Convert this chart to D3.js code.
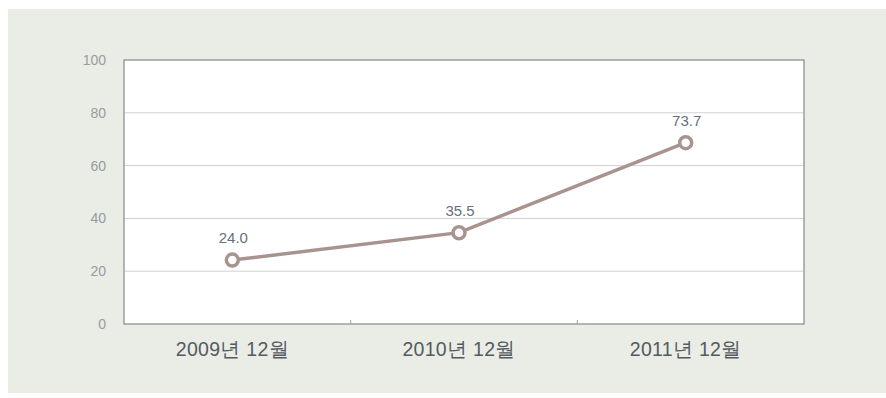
<!DOCTYPE html>
<html>
<head>
<meta charset="utf-8">
<script src="https://cdn.jsdelivr.net/npm/d3@7"></script>
<style>
  body { margin: 0; background: #fff; }
  svg { display: block; font-family: "Liberation Sans", "Noto Sans CJK KR", sans-serif; }
</style>
</head>
<body>
<div id="chart-area"></div>
<script>
// Data
const categories = ["2009년 12월", "2010년 12월", "2011년 12월"];
const valueLabels = ["24.0", "35.5", "73.7"];
// plotted heights as drawn in the source chart
const plotted = [24.2, 34.6, 68.7];
const yTicks = [0, 20, 40, 60, 80, 100];

const W = 886, H = 398;
const margin = { top: 60, right: 82, bottom: 74, left: 124 };
const width = W - margin.left - margin.right;
const height = H - margin.top - margin.bottom;

const svg = d3.select("#chart-area").append("svg")
    .attr("width", W)
    .attr("height", H);

// panel background
svg.append("rect")
    .attr("x", 8).attr("y", 9)
    .attr("width", W - 8).attr("height", 384)
    .attr("fill", "#e9ede6");

const g = svg.append("g")
    .attr("transform", `translate(${margin.left}, ${margin.top})`);

// Scales
const x = d3.scaleBand().domain(categories).range([0, width]);
const y = d3.scaleLinear().domain([0, 100]).range([height, 0]);
const px = d => x(d) + x.bandwidth() / 2 - 5;

// plot area
g.append("rect")
    .attr("width", width).attr("height", height)
    .attr("fill", "#fff");

// grid lines
g.append("g").selectAll("line")
    .data(yTicks.filter(t => t > 0 && t < 100))
    .join("line")
    .attr("x1", 0).attr("x2", width)
    .attr("y1", d => y(d)).attr("y2", d => y(d))
    .attr("stroke", "#cfd2d2").attr("stroke-width", 1);

// border
g.append("rect")
    .attr("width", width).attr("height", height)
    .attr("fill", "none")
    .attr("stroke", "#9a9fa3").attr("stroke-width", 1.5);

// y axis
const yAxis = g.append("g")
    .call(d3.axisLeft(y).tickValues(yTicks).tickSize(0).tickPadding(18));
yAxis.select(".domain").remove();
yAxis.selectAll("text")
    .attr("fill", "#979ca0")
    .attr("font-size", 14);

// x axis
const xAxis = g.append("g")
    .attr("transform", `translate(0, ${height})`)
    .call(d3.axisBottom(x).tickSize(0).tickPadding(0));
xAxis.select(".domain").remove();
xAxis.selectAll("text")
    .attr("x", -5)
    .attr("y", 25)
    .attr("dy", "0.35em")
    .attr("fill", "#555a60")
    .attr("font-size", 19.5)
    .attr("letter-spacing", 0.3);

// small tick marks between categories
g.append("g").selectAll("line")
    .data(categories.slice(1))
    .join("line")
    .attr("x1", d => x(d)).attr("x2", d => x(d))
    .attr("y1", height).attr("y2", height - 4)
    .attr("stroke", "#9a9fa3");

// line
const line = d3.line()
    .x((d, i) => px(categories[i]))
    .y(d => y(d));

g.append("path")
    .datum(plotted)
    .attr("fill", "none")
    .attr("stroke", "#a8948f")
    .attr("stroke-width", 3.5)
    .attr("d", line);

// markers
g.append("g").selectAll("circle")
    .data(plotted)
    .join("circle")
    .attr("cx", (d, i) => px(categories[i]))
    .attr("cy", d => y(d))
    .attr("r", 6)
    .attr("fill", "#fff")
    .attr("stroke", "#a8948f")
    .attr("stroke-width", 3.5);

// value labels
g.append("g").selectAll("text")
    .data(plotted)
    .join("text")
    .attr("x", (d, i) => px(categories[i]) + 1)
    .attr("y", d => y(d) - 17)
    .attr("text-anchor", "middle")
    .attr("fill", "#66707c")
    .attr("font-size", 15)
    .text((d, i) => valueLabels[i]);
</script>
</body>
</html>
